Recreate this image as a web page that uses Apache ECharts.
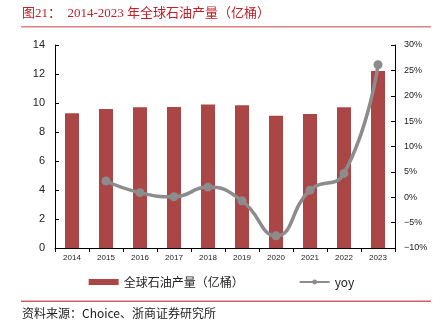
<!DOCTYPE html>
<html><head><meta charset="utf-8">
<script src="https://cdn.jsdelivr.net/npm/echarts@6/dist/echarts.min.js"></script>
<style>html,body{margin:0;padding:0;background:#fff}#c{width:443px;height:330px}</style>
</head><body><div id="c"></div>
<script>
var years = ['2014','2015','2016','2017','2018','2019','2020','2021','2022','2023'];
var production = [9.29, 9.59, 9.70, 9.72, 9.90, 9.84, 9.12, 9.24, 9.70, 12.2];
var yoy = [null, 3.2, 0.9, 0.1, 2.0, -0.7, -7.6, 1.4, 4.7, 26.1];
var leftTicks = [0,2,4,6,8,10,12,14];
var rightTicks = [-10,-5,0,5,10,15,20,25,30];

var chart = echarts.init(document.getElementById('c'));
var cjk = '"Liberation Serif","Noto Sans CJK SC",serif';
chart.setOption({
  animation: false,
  grid: {left: 55, right: 48, top: 45, bottom: 82},
  graphic: [
    {type:'text', left: 22, top: 7, style:{text:'图21：  2014-2023 年全球石油产量（亿桶）', fill:'#c0212a', font:'13px ' + cjk}},
    {type:'rect', shape:{x:21, y:26, width:410, height:1.5}, style:{fill:'#e08080'}},
    {type:'rect', shape:{x:21, y:300.5, width:410, height:1.5}, style:{fill:'#d06060'}},
    {type:'text', left: 22, top: 307, style:{text:'资料来源：Choice、浙商证券研究所', fill:'#222', font:'12px "Noto Sans CJK SC",sans-serif'}}
  ],
  legend: {
    bottom: 37, left: 'center', itemGap: 55, itemWidth: 30, itemHeight: 6,
    textStyle: {fontSize: 12, color: '#222', fontFamily: '"Noto Sans CJK SC",sans-serif'},
    data: [
      {name:'全球石油产量（亿桶）', icon:'rect'},
      {name:'yoy'}
    ]
  },
  xAxis: {
    type: 'category', data: years,
    axisLine: {lineStyle:{color:'#000'}},
    axisTick: {show: true, length: 4, inside: false, lineStyle:{color:'#000'}},
    axisLabel: {fontSize: 8, color: '#222', margin: 6, fontFamily: 'Arial,Liberation Sans,sans-serif'}
  },
  yAxis: [
    {type:'value', min: 0, max: 14, interval: 2,
     axisLine:{show:true, lineStyle:{color:'#000'}},
     axisTick:{show:true, inside:true, length:4, lineStyle:{color:'#000'}},
     splitLine:{show:false},
     axisLabel:{fontSize: 11, color:'#222', margin: 10, fontFamily:'Liberation Sans,Arial,sans-serif'}},
    {type:'value', min: -10, max: 30, interval: 5,
     axisLine:{show:true, lineStyle:{color:'#000'}},
     axisTick:{show:true, inside:true, length:4, lineStyle:{color:'#000'}},
     splitLine:{show:false},
     axisLabel:{fontSize: 9, color:'#222', margin: 9, formatter: function(v){return (v<0?'−'+(-v):v)+'%';}, fontFamily:'Liberation Sans,Arial,sans-serif'}}
  ],
  series: [
    {name:'全球石油产量（亿桶）', type:'bar', data: production, barWidth: 14,
     itemStyle:{color:'#ab4646'}},
    {name:'yoy', type:'line', yAxisIndex: 1, data: yoy, smooth: true,
     symbol:'circle', symbolSize: 9,
     lineStyle:{color:'#8c8c8c', width: 3.5},
     itemStyle:{color:'#8c8c8c'}}
  ]
});
</script></body></html>
